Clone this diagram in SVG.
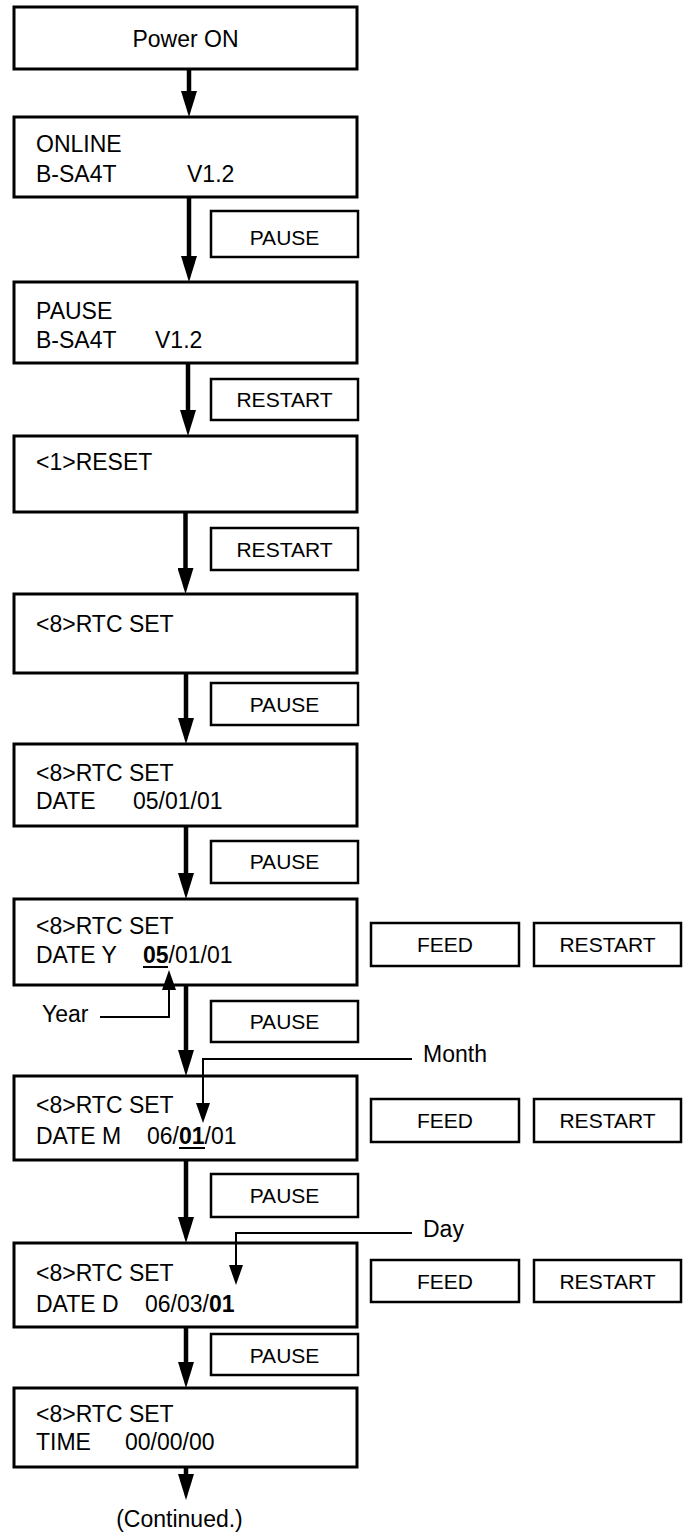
<svg xmlns="http://www.w3.org/2000/svg" width="688" height="1533" viewBox="0 0 688 1533">
<defs>
<style>
.box{fill:#fff;stroke:#000;stroke-width:3}
.btn{fill:#fff;stroke:#000;stroke-width:2.5}
.t{font-family:"Liberation Sans",Arial,sans-serif;font-size:23px;fill:#000}
.bt{font-family:"Liberation Sans",Arial,sans-serif;font-size:21px;fill:#000;text-anchor:middle}
.b{font-weight:bold}
.shaft{stroke:#000;stroke-width:4.5;fill:none;marker-end:url(#ah)}
.ptr{stroke:#000;stroke-width:2;fill:none;marker-end:url(#ahs)}
.ul{stroke:#000;stroke-width:2}
</style>
<marker id="ah" markerUnits="userSpaceOnUse" markerWidth="26" markerHeight="16" viewBox="0 0 26 16" refX="0" refY="8" orient="auto"><path d="M0,0 L26,8 L0,16 Z" fill="#000"/></marker>
<marker id="ahs" markerUnits="userSpaceOnUse" markerWidth="20" markerHeight="14" viewBox="0 0 20 14" refX="0" refY="7" orient="auto"><path d="M0,0 L20,7 L0,14 Z" fill="#000"/></marker>
</defs>
<rect x="0" y="0" width="688" height="1533" fill="#fff"/>

<g id="n-power">
<rect class="box" x="14" y="7" width="343" height="62"/>
<text class="t" x="185.5" y="47" text-anchor="middle">Power ON</text>
</g>
<g id="n-online">
<rect class="box" x="14" y="117" width="343" height="80"/>
<text class="t" x="36" y="152">ONLINE</text>
<text class="t" y="182"><tspan x="36">B-SA4T</tspan><tspan x="187">V1.2</tspan></text>
</g>
<g id="b-pause1">
<rect class="btn" x="211" y="211" width="147" height="46"/>
<text class="bt" x="284.5" y="245">PAUSE</text>
</g>
<g id="n-pause">
<rect class="box" x="14" y="282" width="343" height="81"/>
<text class="t" x="36" y="319">PAUSE</text>
<text class="t" y="348"><tspan x="36">B-SA4T</tspan><tspan x="155">V1.2</tspan></text>
</g>
<g id="b-restart1">
<rect class="btn" x="211" y="379" width="147" height="41"/>
<text class="bt" x="284.5" y="407">RESTART</text>
</g>
<g id="n-reset">
<rect class="box" x="14" y="436" width="343" height="76"/>
<text class="t" x="36" y="470">&lt;1&gt;RESET</text>
</g>
<g id="b-restart2">
<rect class="btn" x="211" y="528" width="147" height="42"/>
<text class="bt" x="284.5" y="557">RESTART</text>
</g>
<g id="n-rtc">
<rect class="box" x="14" y="594" width="343" height="79"/>
<text class="t" x="36" y="632">&lt;8&gt;RTC SET</text>
</g>
<g id="b-pause2">
<rect class="btn" x="211" y="683" width="147" height="42"/>
<text class="bt" x="284.5" y="712">PAUSE</text>
</g>
<g id="n-date">
<rect class="box" x="14" y="744" width="343" height="82"/>
<text class="t" x="36" y="781">&lt;8&gt;RTC SET</text>
<text class="t" y="809"><tspan x="36">DATE</tspan><tspan x="133">05/01/01</tspan></text>
</g>
<g id="b-pause3">
<rect class="btn" x="211" y="841" width="147" height="42"/>
<text class="bt" x="284.5" y="869">PAUSE</text>
</g>
<g id="n-datey">
<rect class="box" x="14" y="899" width="343" height="86"/>
<text class="t" x="36" y="934">&lt;8&gt;RTC SET</text>
<text class="t" y="963"><tspan x="36">DATE Y</tspan><tspan x="143" class="b">05</tspan><tspan>/01/01</tspan></text>
<line class="ul" x1="143" y1="967" x2="168" y2="967"/>
</g>
<g id="b-feed1">
<rect class="btn" x="371" y="923" width="148" height="43"/>
<text class="bt" x="445" y="952">FEED</text>
</g>
<g id="b-restart3">
<rect class="btn" x="534" y="923" width="147" height="43"/>
<text class="bt" x="607.5" y="952">RESTART</text>
</g>
<g id="l-year">
<text class="t" x="42" y="1022">Year</text>
</g>
<g id="b-pause4">
<rect class="btn" x="211" y="1001" width="147" height="41"/>
<text class="bt" x="284.5" y="1029">PAUSE</text>
</g>
<g id="l-month">
<text class="t" x="423" y="1062">Month</text>
</g>
<g id="n-datem">
<rect class="box" x="14" y="1076" width="343" height="84"/>
<text class="t" x="36" y="1113">&lt;8&gt;RTC SET</text>
<text class="t" y="1144"><tspan x="36">DATE M</tspan><tspan x="147">06/</tspan><tspan class="b">01</tspan><tspan>/01</tspan></text>
<line class="ul" x1="179" y1="1148" x2="205" y2="1148"/>
</g>
<g id="b-feed2">
<rect class="btn" x="371" y="1099" width="148" height="43"/>
<text class="bt" x="445" y="1128">FEED</text>
</g>
<g id="b-restart4">
<rect class="btn" x="534" y="1099" width="147" height="43"/>
<text class="bt" x="607.5" y="1128">RESTART</text>
</g>
<g id="b-pause5">
<rect class="btn" x="211" y="1174" width="147" height="43"/>
<text class="bt" x="284.5" y="1203">PAUSE</text>
</g>
<g id="l-day">
<text class="t" x="423" y="1237">Day</text>
</g>
<g id="n-dated">
<rect class="box" x="14" y="1243" width="343" height="84"/>
<text class="t" x="36" y="1281">&lt;8&gt;RTC SET</text>
<text class="t" y="1312"><tspan x="36">DATE D</tspan><tspan x="145">06/03/</tspan><tspan class="b">01</tspan></text>
</g>
<g id="b-feed3">
<rect class="btn" x="371" y="1260" width="148" height="42"/>
<text class="bt" x="445" y="1289">FEED</text>
</g>
<g id="b-restart5">
<rect class="btn" x="534" y="1260" width="147" height="42"/>
<text class="bt" x="607.5" y="1289">RESTART</text>
</g>
<g id="b-pause6">
<rect class="btn" x="211" y="1334" width="147" height="41"/>
<text class="bt" x="284.5" y="1363">PAUSE</text>
</g>
<g id="n-time">
<rect class="box" x="14" y="1388" width="343" height="79"/>
<text class="t" x="36" y="1422">&lt;8&gt;RTC SET</text>
<text class="t" y="1450"><tspan x="36">TIME</tspan><tspan x="125">00/00/00</tspan></text>
</g>
<g id="l-continued">
<text class="t" x="179.5" y="1527" text-anchor="middle">(Continued.)</text>
</g>

<g id="connectors">
<line class="shaft" x1="189" y1="69" x2="189" y2="91"/>
<line class="shaft" x1="189" y1="197" x2="189" y2="256"/>
<line class="shaft" x1="188" y1="363" x2="188" y2="410"/>
<line class="shaft" x1="185.5" y1="512" x2="185.5" y2="568"/>
<line class="shaft" x1="186" y1="673" x2="186" y2="718"/>
<line class="shaft" x1="186" y1="826" x2="186" y2="873"/>
<line class="shaft" x1="186" y1="985" x2="186" y2="1050"/>
<line class="shaft" x1="186" y1="1160" x2="186" y2="1217"/>
<line class="shaft" x1="186" y1="1327" x2="186" y2="1362"/>
<line class="shaft" x1="186" y1="1467" x2="186" y2="1474"/>
<polyline class="ptr" points="100,1017 169,1017 169,990"/>
<polyline class="ptr" points="412,1059 203,1059 203,1103"/>
<polyline class="ptr" points="412,1233 236,1233 236,1265"/>
</g>
</svg>
